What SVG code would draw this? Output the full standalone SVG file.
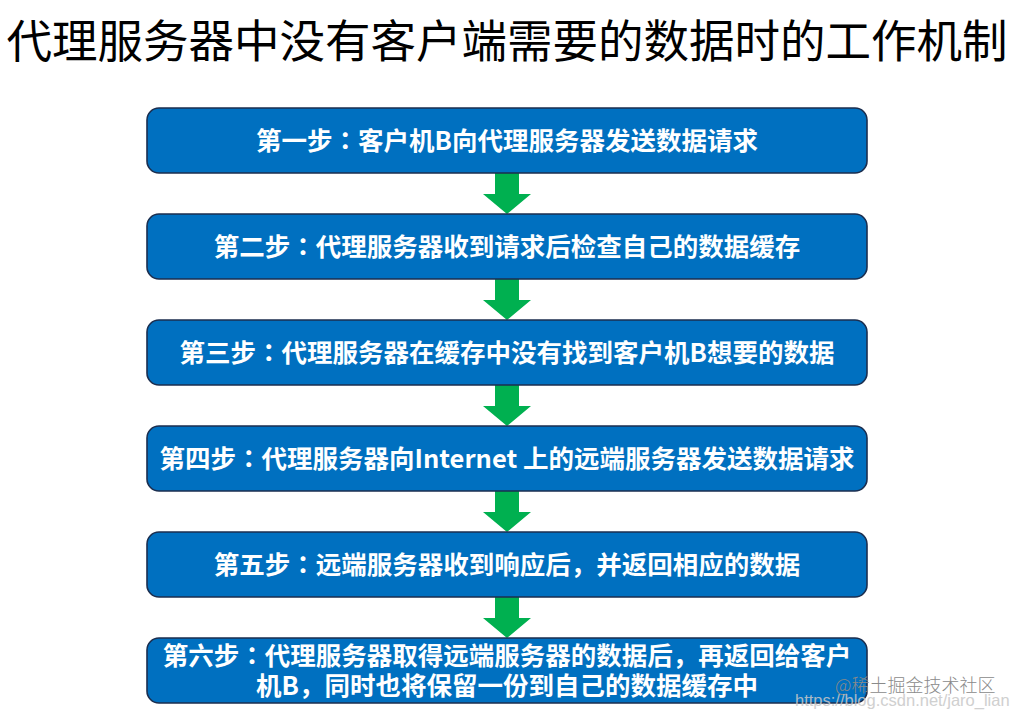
<svg xmlns="http://www.w3.org/2000/svg" width="1015" height="715" viewBox="0 0 1015 715">
<style>
.title{font-family:"Noto Sans CJK SC","Noto Sans",sans-serif;font-size:45.5px;fill:#000;}
.box{fill:#0070C0;stroke:#1B2E4F;stroke-width:1.6;}
.lbl{font-family:"Noto Sans CJK SC","Noto Sans",sans-serif;font-size:25.5px;font-weight:bold;fill:#fff;text-anchor:middle;}
.c{font-family:"Noto Sans CJK TC","Noto Sans CJK SC",sans-serif;}
.arr{fill:#00B050;}
.wm1{font-family:"Noto Sans CJK SC",sans-serif;font-size:18px;font-weight:300;fill:#8a8a8a;}
.wm2{font-family:"Liberation Sans",sans-serif;font-size:16.5px;fill:#c8c8c8;opacity:0.85;}
</style>
<defs>
<path id="arrow" d="M495,0 H519 V21 H531 L507,41 L483,21 H495 Z"/>
</defs>
<rect width="1015" height="715" fill="#fff"/>
<text class="title" x="507" y="58" text-anchor="middle">代理服务器中没有客户端需要的数据时的工作机制</text>
<g id="connectors">
<use href="#arrow" class="arr" y="173"/>
<use href="#arrow" class="arr" y="279"/>
<use href="#arrow" class="arr" y="385"/>
<use href="#arrow" class="arr" y="491"/>
<use href="#arrow" class="arr" y="597"/>
</g>
<g id="step1">
<rect class="box" x="147" y="108" width="720" height="65" rx="12"/>
<text class="lbl" x="507" y="150">第一步<tspan class="c">：</tspan>客户机B向代理服务器发送数据请求</text>
</g>
<g id="step2">
<rect class="box" x="147" y="214" width="720" height="65" rx="12"/>
<text class="lbl" x="507" y="256">第二步<tspan class="c">：</tspan>代理服务器收到请求后检查自己的数据缓存</text>
</g>
<g id="step3">
<rect class="box" x="147" y="320" width="720" height="65" rx="12"/>
<text class="lbl" x="507" y="362">第三步<tspan class="c">：</tspan>代理服务器在缓存中没有找到客户机B想要的数据</text>
</g>
<g id="step4">
<rect class="box" x="147" y="426" width="720" height="65" rx="12"/>
<text class="lbl" x="507" y="468">第四步<tspan class="c">：</tspan>代理服务器向Internet 上的远端服务器发送数据请求</text>
</g>
<g id="step5">
<rect class="box" x="147" y="532" width="720" height="65" rx="12"/>
<text class="lbl" x="507" y="574">第五步<tspan class="c">：</tspan>远端服务器收到响应后，并返回相应的数据</text>
</g>
<g id="step6">
<rect class="box" x="147" y="638" width="720" height="65" rx="12"/>
<text class="lbl"><tspan x="507" y="665">第六步<tspan class="c">：</tspan>代理服务器取得远端服务器的数据后，再返回给客户</tspan><tspan x="507" y="695">机B，同时也将保留一份到自己的数据缓存中</tspan></text>
</g>
<text><tspan class="wm1" x="835" y="692">@稀土掘金技术社区</tspan><tspan class="wm2" x="795" y="706">https://blog.csdn.net/jaro_lian</tspan></text>
</svg>
